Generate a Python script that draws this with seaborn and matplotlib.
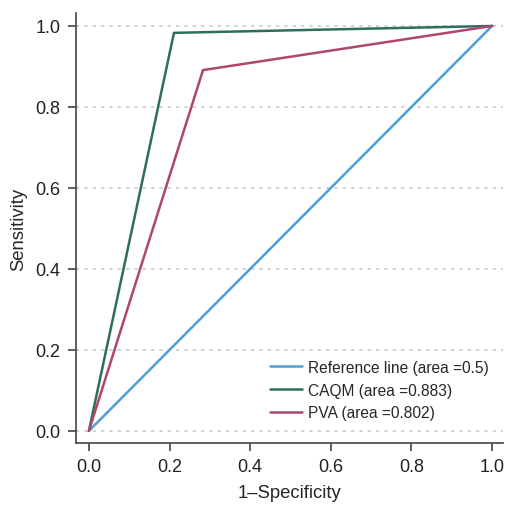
import matplotlib
matplotlib.use("Agg")
import matplotlib.pyplot as plt
import seaborn as sns
import pandas as pd

ref_x = [0.0, 1.0]
ref_y = [0.0, 1.0]
caqm_x = [0.0, 0.211, 1.0]
caqm_y = [0.0, 0.983, 1.0]
pva_x = [0.0, 0.283, 1.0]
pva_y = [0.0, 0.891, 1.0]
labels = ["Reference line (area =0.5)", "CAQM (area =0.883)", "PVA (area =0.802)"]
colors = ["#4a9fd8", "#2e6e5e", "#b0456e"]
ticks = [0.0, 0.2, 0.4, 0.6, 0.8, 1.0]

sns.set_style("ticks")
plt.rcParams['font.family'] = ['Liberation Sans', 'DejaVu Sans']

fig = plt.figure(figsize=(5.05, 5.06), dpi=100)
ax = fig.add_axes([0.1505, 0.1225, 0.8455, 0.8498])

for y in ticks:
    ax.axhline(y, color="#cccccc", lw=1.2, ls=(0, (2, 3)), zorder=0)

series = [(ref_x, ref_y), (caqm_x, caqm_y), (pva_x, pva_y)]
for (xs, ys), lab, c in zip(series, labels, colors):
    df = pd.DataFrame({"x": xs, "y": ys})
    sns.lineplot(data=df, x="x", y="y", ax=ax, color=c, lw=1.8, label=lab,
                 estimator=None, sort=False)

ax.set_xlim(-0.032, 1.027)
ax.set_ylim(-0.03, 1.032)
ax.set_xticks(ticks)
ax.set_yticks(ticks)
ax.set_xticklabels([f"{t:.1f}" for t in ticks])
ax.set_yticklabels([f"{t:.1f}" for t in ticks])
ax.tick_params(labelsize=13, colors="#333333", labelcolor="#222222", length=6, width=1.1, pad=5)
ax.set_xlabel("1\u2013Specificity", fontsize=13.3, labelpad=6)
ax.set_ylabel("Sensitivity", fontsize=13.3, labelpad=6)
for s in ["top", "right"]:
    ax.spines[s].set_visible(False)
for s in ["left", "bottom"]:
    ax.spines[s].set_color("#444444")
    ax.spines[s].set_linewidth(1.2)

leg = ax.legend(loc="lower right", bbox_to_anchor=(1.0, 0.02), frameon=False,
                fontsize=11.2, handlelength=2.05, handletextpad=0.4, labelspacing=0.5)

fig.savefig("out.png", dpi=100)
